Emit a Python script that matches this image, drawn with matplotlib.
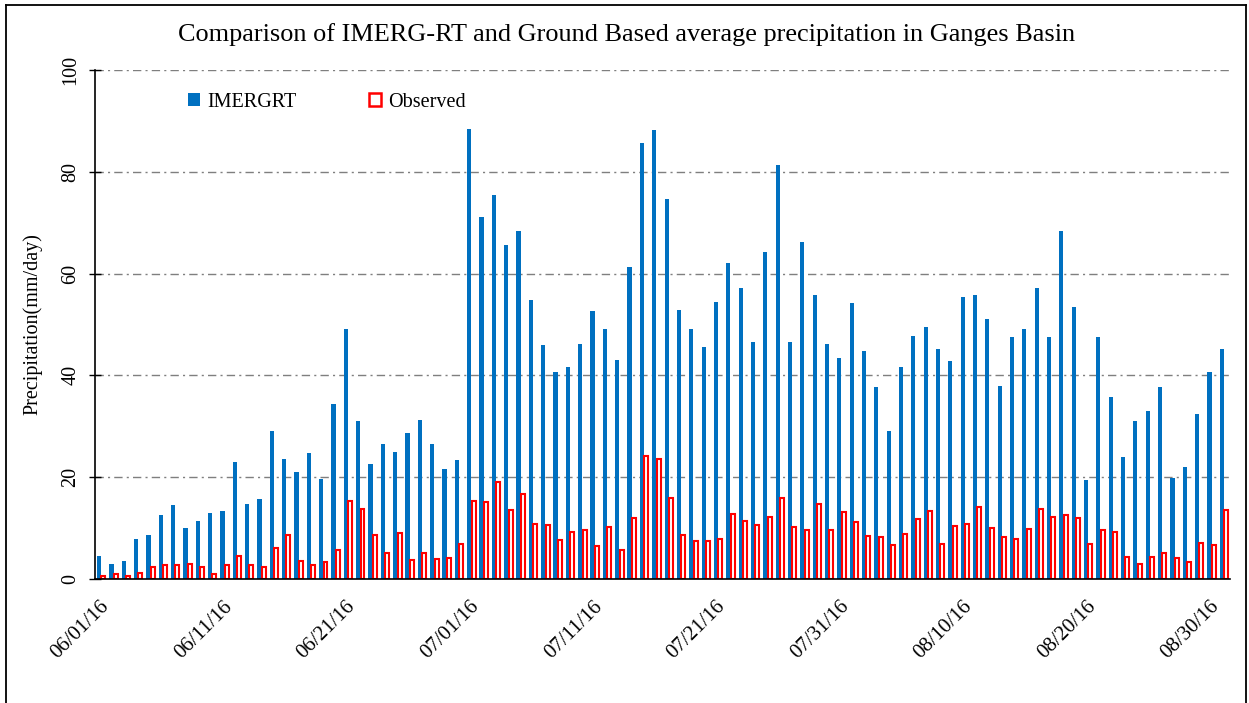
import matplotlib
matplotlib.use("Agg")
import matplotlib.pyplot as plt
from matplotlib.patches import Patch
from matplotlib.lines import Line2D
import matplotlib.transforms as mtransforms
import numpy as np
import pandas as pd

plt.rcParams['font.family'] = ['Liberation Serif', 'DejaVu Serif']

dates = pd.date_range('2016-06-01', '2016-08-31', freq='D')
tick_labels = ['06/01/16', '06/11/16', '06/21/16', '07/01/16', '07/11/16',
               '07/21/16', '07/31/16', '08/10/16', '08/20/16', '08/30/16']

imergrt = [4.6, 3.0, 3.6, 7.8, 8.7, 12.6, 14.5, 10.0, 11.3, 12.9, 13.3, 23.0, 14.7, 15.8, 29.1,
           23.6, 21.0, 24.8, 19.6, 34.4, 49.2, 31.1, 22.5, 26.5, 24.9, 28.6, 31.3, 26.5, 21.7, 23.4,
           88.5, 71.2, 75.4, 65.7, 68.3, 54.9, 45.9, 40.7, 41.7, 46.2, 52.6, 49.2, 43.0, 61.3, 85.7, 88.3,
           74.7, 52.9, 49.1, 45.6, 54.4, 62.1, 57.1, 46.6, 64.2, 81.4, 46.6, 66.3, 55.8, 46.1, 43.4,
           54.3, 44.7, 37.8, 29.1, 41.7, 47.8, 49.5, 45.1, 42.9, 55.4, 55.7, 51.0, 38.0, 47.5, 49.2, 57.1,
           47.5, 68.3, 53.4, 19.5, 47.6, 35.8, 23.9, 31.1, 33.0, 37.8, 19.9, 22.0, 32.4, 40.7, 45.1]

observed = [0.6, 1.0, 0.6, 1.1, 2.4, 2.7, 2.8, 3.0, 2.4, 1.0, 2.8, 4.6, 2.7, 2.4, 6.0,
            8.6, 3.6, 2.7, 3.3, 5.6, 15.3, 13.7, 8.7, 5.2, 9.1, 3.7, 5.2, 4.0, 4.2, 6.9,
            15.3, 15.1, 19.0, 13.5, 16.7, 10.8, 10.7, 7.7, 9.2, 9.7, 6.4, 10.2, 5.7, 11.9, 24.2, 23.6,
            15.9, 8.7, 7.4, 7.4, 7.9, 12.7, 11.3, 10.6, 12.2, 15.9, 10.2, 9.7, 14.7, 9.7, 13.1,
            11.1, 8.4, 8.2, 6.6, 8.8, 11.7, 13.3, 6.9, 10.4, 10.8, 14.1, 10.0, 8.3, 7.9, 9.9, 13.8,
            12.2, 12.6, 11.9, 6.9, 9.6, 9.2, 4.4, 2.9, 4.4, 5.2, 4.1, 3.4, 7.0, 6.7, 13.6]

BLUE = '#0070C0'
RED = '#FF0000'

fig = plt.figure(figsize=(12.49, 7.03), dpi=100)
ax = fig.add_axes([0.0761, 0.1764, 0.9087, 0.7240])

x = np.arange(len(dates))
w = 0.34
ax.bar(x - 0.17, imergrt, width=w, color=BLUE, linewidth=0, zorder=3)
ax.bar(x + 0.18, observed, width=w * 0.95, facecolor='white', edgecolor=RED,
       linewidth=1.5, zorder=3)

ax.set_xlim(-0.5, len(dates) - 0.5)
ax.set_ylim(0, 100)
ax.set_yticks(np.arange(0, 101, 20))
ax.yaxis.grid(True, linestyle=(0, (6, 3, 1.5, 3)), color='#7f7f7f', linewidth=1.0, zorder=0)
ax.xaxis.grid(False)

tick_pos = [dates.get_loc(pd.Timestamp('20' + t[6:8] + '-' + t[0:2] + '-' + t[3:5])) for t in tick_labels]
ax.set_xticks(tick_pos)
ax.set_xticklabels(tick_labels, rotation=45, ha='right', va='top', rotation_mode='anchor',
                   fontsize=15)
ax.tick_params(axis='x', length=0, pad=13)
offset = mtransforms.ScaledTranslation(-2 / 100, 0, fig.dpi_scale_trans)
for lab in ax.get_xticklabels():
    lab.set_transform(lab.get_transform() + offset)
ax.tick_params(axis='y', direction='inout', length=9, width=1, labelsize=14.5, pad=6)
for lab in ax.get_yticklabels():
    lab.set_rotation(90)
    lab.set_va('center')
    lab.set_ha('right')

for s in ['top', 'right']:
    ax.spines[s].set_visible(False)
ax.spines['left'].set_color('black')
ax.spines['bottom'].set_color('black')
ax.spines['left'].set_linewidth(1.2)
ax.spines['bottom'].set_linewidth(1.2)
ax.spines['bottom'].set_zorder(4)

ax.set_ylabel('Precipitation(mm/day)', fontsize=14.5, labelpad=14)

fig.text(0.502, 0.951, 'Comparison of IMERG-RT and Ground Based average precipitation in Ganges Basin',
         ha='center', va='center', fontsize=18.9)

handles = [Patch(facecolor=BLUE, edgecolor=BLUE, linewidth=0),
           Patch(facecolor='white', edgecolor=RED, linewidth=1.8)]
ax.legend(handles, ['IMERGRT', 'Observed'], loc='center left', bbox_to_anchor=(0.075, 0.937),
          ncol=2, frameon=False, fontsize=14.5, handlelength=0.6, handleheight=0.6,
          handletextpad=0.35, columnspacing=3.6, borderaxespad=0)

# outer chart frame
for (x0, y0, x1, y1) in [(6 / 1249, 0, 6 / 1249, 1 - 5 / 703),
                         (6 / 1249, 1 - 5 / 703, 1246 / 1249, 1 - 5 / 703),
                         (1246 / 1249, 1 - 5 / 703, 1246 / 1249, 0)]:
    fig.add_artist(Line2D([x0, x1], [y0, y1], transform=fig.transFigure, color='black', linewidth=1.3))

fig.savefig('out.png', dpi=100)
